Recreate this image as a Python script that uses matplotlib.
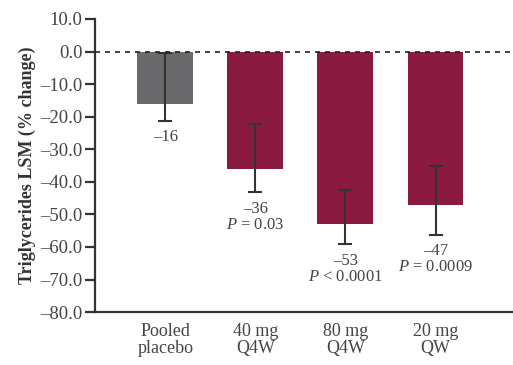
import matplotlib.pyplot as plt
import numpy as np

categories = ["Pooled\nplacebo", "40 mg\nQ4W", "80 mg\nQ4W", "20 mg\nQW"]
lsm = [-16, -36, -53, -47]
err_top = [-0.5, -22.3, -42.5, -35.1]
err_bottom = [-21.3, -43.2, -59.2, -56.2]
value_labels = ["\u201316", "\u201336", "\u201353", "\u201347"]
p_labels = ["", "$P$ = 0.03", "$P$ < 0.0001", "$P$ = 0.0009"]
colors = ["#6a6a6c", "#8a1a40", "#8a1a40", "#8a1a40"]

plt.rcParams["font.family"] = ["Liberation Serif", "DejaVu Serif"]
plt.rcParams["mathtext.fontset"] = "custom"
plt.rcParams["mathtext.it"] = "Liberation Serif:italic"
plt.rcParams["mathtext.rm"] = "Liberation Serif"

fig = plt.figure(figsize=(5.13, 3.65), dpi=100)
ax = fig.add_axes([0.185, 0.145, 0.815, 0.803])

x = np.arange(len(categories))
lsm = np.array(lsm)
lower = lsm - np.array(err_bottom)
upper = np.array(err_top) - lsm
ax.bar(x, lsm, width=0.62, color=colors, zorder=2)
ax.errorbar(x, lsm, yerr=[lower, upper], fmt="none", ecolor="#333333",
            elinewidth=1.5, capsize=5, capthick=1.5, zorder=3)
ax.axhline(0, color="#222222", linestyle=(0, (3, 3)), linewidth=1.2, zorder=4)

for i in range(len(x)):
    y0 = err_bottom[i] - 2.6
    ax.text(x[i], y0, value_labels[i], ha="center", va="top",
            fontsize=12, color="#444444")
    if p_labels[i]:
        ax.text(x[i], y0 - 5.0, p_labels[i], ha="center", va="top",
                fontsize=12, color="#444444")

ax.set_xlim(-0.78, 3.86)
ax.set_ylim(-80, 10)
ax.set_yticks(np.arange(-80, 11, 10))
ax.set_yticklabels(["%.1f" % v if v >= 0 else "\u2013%.1f" % -v
                    for v in np.arange(-80, 11, 10)])
ax.set_xticks(x)
ax.set_xticklabels(categories, fontsize=13, color="#444444", linespacing=0.95)
ax.tick_params(axis="x", length=0, pad=8)
ax.tick_params(axis="y", length=7, width=1.6, color="#333333",
               labelsize=13.5, labelcolor="#444444", pad=2)
ax.spines["top"].set_visible(False)
ax.spines["right"].set_visible(False)
for s in ["left", "bottom"]:
    ax.spines[s].set_linewidth(1.6)
    ax.spines[s].set_color("#333333")

ax.set_ylabel("Triglycerides LSM (% change)", fontsize=13, fontweight="bold",
              color="#333333", labelpad=3)

fig.savefig("out.png", dpi=100)
